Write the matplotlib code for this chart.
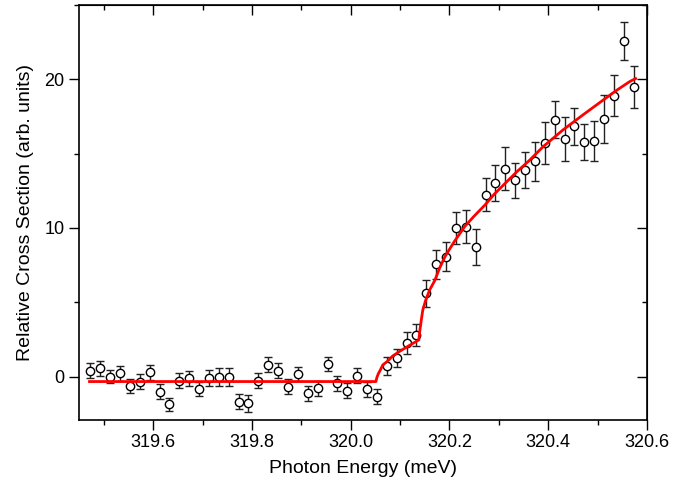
import matplotlib
matplotlib.use('Agg')
import matplotlib.pyplot as plt
from matplotlib.ticker import MultipleLocator

# measured points (photon energy in meV, relative cross section, error)
energy = [319.473, 319.493, 319.513, 319.533, 319.553, 319.573, 319.593, 319.613,
          319.633, 319.653, 319.673, 319.693, 319.713, 319.733, 319.753, 319.773,
          319.793, 319.813, 319.833, 319.853, 319.873, 319.893, 319.913, 319.933,
          319.953, 319.973, 319.993, 320.013, 320.033, 320.053, 320.073, 320.093,
          320.113, 320.133, 320.153, 320.173, 320.193, 320.213, 320.233, 320.253,
          320.273, 320.293, 320.313, 320.333, 320.353, 320.373, 320.393, 320.413,
          320.433, 320.453, 320.473, 320.493, 320.513, 320.533, 320.553, 320.573]
cross = [0.40, 0.57, 0.00, 0.23, -0.63, -0.34, 0.30, -1.00,
         -1.86, -0.27, -0.10, -0.83, -0.08, 0.00, 0.00, -1.68,
         -1.80, -0.27, 0.79, 0.40, -0.67, 0.18, -1.12, -0.78,
         0.85, -0.45, -0.94, 0.07, -0.85, -1.35, 0.72, 1.24,
         2.25, 2.79, 5.60, 7.55, 8.08, 9.99, 10.10, 8.71,
         12.24, 13.02, 13.99, 13.20, 13.90, 14.48, 15.72, 17.29,
         16.00, 16.84, 15.78, 15.83, 17.35, 18.90, 22.60, 19.50]
error = [0.50, 0.50, 0.45, 0.50, 0.50, 0.50, 0.50, 0.50,
         0.45, 0.50, 0.50, 0.45, 0.55, 0.60, 0.60, 0.50,
         0.55, 0.50, 0.50, 0.50, 0.50, 0.50, 0.50, 0.50,
         0.50, 0.50, 0.50, 0.50, 0.50, 0.50, 0.60, 0.60,
         0.75, 0.75, 0.92, 0.95, 1.00, 1.10, 1.10, 1.20,
         1.12, 1.19, 1.46, 1.18, 1.20, 1.30, 1.40, 1.27,
         1.48, 1.26, 1.22, 1.35, 1.60, 1.37, 1.29, 1.40]

# threshold fit curve
fit_energy = [319.471, 320.051, 320.053, 320.056, 320.060, 320.065, 320.075, 320.085,
              320.100, 320.113, 320.125, 320.138, 320.140, 320.143, 320.146, 320.152,
              320.160, 320.170, 320.180, 320.191, 320.210, 320.231, 320.250, 320.272,
              320.290, 320.312, 320.337, 320.362, 320.389, 320.430, 320.470, 320.511,
              320.538, 320.565, 320.577]
fit_cross = [-0.33, -0.33, -0.05, 0.20, 0.45, 0.79, 1.05, 1.39,
             1.72, 1.98, 2.22, 2.47, 3.10, 3.82, 4.49, 5.16,
             5.84, 6.45, 7.30, 8.08, 9.10, 10.10, 10.80, 11.55,
             12.25, 12.98, 13.80, 14.55, 15.45, 16.60, 17.60, 18.60,
             19.25, 19.85, 20.05]

plt.rcParams['font.family'] = ['Liberation Sans', 'DejaVu Sans']

fig = plt.figure(figsize=(6.85, 4.91), dpi=100)
ax = fig.add_axes([0.1148, 0.1436, 0.8297, 0.8462])

ax.errorbar(energy, cross, yerr=error, fmt='o', color='black', ecolor='#222222',
            elinewidth=1.0, capsize=3, capthick=1.0, markersize=6,
            markerfacecolor='white', markeredgecolor='black', markeredgewidth=1.0,
            zorder=2)
ax.plot(fit_energy, fit_cross, color='red', linewidth=2.0, zorder=3)

ax.set_xlim(319.449, 320.6)
ax.set_ylim(-2.95, 25.0)
ax.xaxis.set_major_locator(MultipleLocator(0.2))
ax.xaxis.set_minor_locator(MultipleLocator(0.1))
ax.yaxis.set_major_locator(MultipleLocator(10))
ax.yaxis.set_minor_locator(MultipleLocator(5))
ax.xaxis.set_major_formatter(plt.FormatStrFormatter('%.1f'))

ax.tick_params(which='both', direction='out', top=False, right=False, width=1.0,
               labelsize=13, colors='black')
ax.tick_params(which='major', length=7, pad=3)
ax.tick_params(which='minor', length=3.5)

# inward ticks on the top and right frame
top = ax.secondary_xaxis('top')
top.xaxis.set_major_locator(MultipleLocator(0.2))
top.xaxis.set_minor_locator(MultipleLocator(0.1))
top.tick_params(which='both', direction='in', labeltop=False, width=1.0)
top.tick_params(which='major', length=7)
top.tick_params(which='minor', length=3.5)
right = ax.secondary_yaxis('right')
right.yaxis.set_major_locator(MultipleLocator(10))
right.yaxis.set_minor_locator(MultipleLocator(5))
right.tick_params(which='both', direction='in', labelright=False, width=1.0)
right.tick_params(which='major', length=7)
right.tick_params(which='minor', length=3.5)

for s in ax.spines.values():
    s.set_linewidth(1.2)

ax.set_xlabel('Photon Energy (meV)', fontsize=14, labelpad=6)
ax.set_ylabel('Relative Cross Section (arb. units)', fontsize=14, labelpad=8)

fig.savefig('out.png', dpi=100)
